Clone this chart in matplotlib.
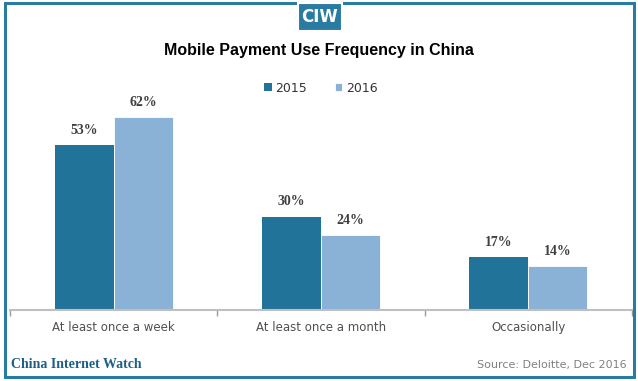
import numpy as np
import matplotlib.pyplot as plt
from matplotlib.patches import Rectangle

categories = ['At least once a week', 'At least once a month', 'Occasionally']
years = ['2015', '2016']
vals_2015 = [53, 30, 17]
vals_2016 = [62, 24, 14]

c2015 = '#22739a'
c2016 = '#8ab2d6'
frame = '#2a7ba1'

W, H = 638, 381
fig = plt.figure(figsize=(W / 100, H / 100), dpi=100)

def fx(px):
    return px / W

def fy(py):
    return 1 - py / H

# plot area in pixel units (left, top, right, bottom)
L, T, R, B = 10, 100, 632, 310
ax = fig.add_axes([fx(L), fy(B), fx(R - L), (B - T) / H])

x = np.arange(len(categories))
bw = 0.285
b1 = ax.bar(x - bw / 2, vals_2015, bw, color=c2015, label=years[0])
b2 = ax.bar(x + bw / 2, vals_2016, bw, color=c2016, label=years[1],
            edgecolor='white', linewidth=0.6)

ax.set_xlim(-0.5, len(categories) - 0.5)
ax.set_ylim(0, (B - T) / 3.11)

for bars, vals in ((b1, vals_2015), (b2, vals_2016)):
    for rect, v in zip(bars, vals):
        ax.annotate(f'{v}%', (rect.get_x() + rect.get_width() / 2, v),
                    xytext=(0, 6), textcoords='offset points', ha='center',
                    va='bottom', fontsize=10, fontweight='bold',
                    family='Liberation Serif', color='#404040')

for s in ['top', 'right', 'left']:
    ax.spines[s].set_visible(False)
ax.spines['bottom'].set_color('#bfbfbf')
ax.spines['bottom'].set_linewidth(1.5)
ax.set_yticks([])
ax.set_xticks(np.arange(-0.5, len(categories)), minor=True)
ax.set_xticks(x)
ax.set_xticklabels(categories, fontsize=8.5, color='#505050', family='DejaVu Sans')
ax.tick_params(axis='x', which='major', length=0, pad=8)
ax.tick_params(axis='x', which='minor', length=4, color='#999999', width=1)

leg = ax.legend(loc='upper center', bbox_to_anchor=(0.5, 1.14),
                ncol=2, frameon=False, fontsize=9, handlelength=0.6, handleheight=0.6,
                columnspacing=2.2, handletextpad=0.3)
for t in leg.get_texts():
    t.set_color('#333333')

fig.text(0.5, fy(50), 'Mobile Payment Use Frequency in China', ha='center', va='center',
         fontsize=11.5, fontweight='bold', family='Liberation Sans', color='black')

# frame around the whole picture
fig.patches.append(Rectangle((fx(5), fy(377)), fx(629), 374 / H, transform=fig.transFigure,
                             fill=False, edgecolor=frame, linewidth=2.2))
# CIW badge
fig.patches.append(Rectangle((fx(298), fy(31)), fx(44), 28 / H, transform=fig.transFigure,
                             facecolor=frame, edgecolor='white', linewidth=1.5))
fig.text(fx(320), fy(17), 'CIW', ha='center', va='center', fontsize=12,
         fontweight='bold', color='white', family='Liberation Sans Narrow')

fig.text(fx(11), fy(365), 'China Internet Watch', ha='left', va='center', fontsize=10,
         fontweight='bold', family='Liberation Serif', color='#1d5f86')
fig.text(fx(627), fy(365), 'Source: Deloitte, Dec 2016', ha='right', va='center',
         fontsize=8, color='#808080')

fig.savefig('out.png', dpi=100)
